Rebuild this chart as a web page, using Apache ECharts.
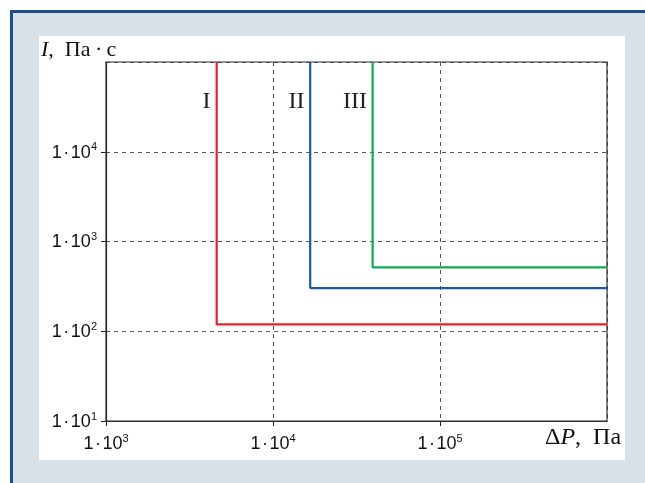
<!DOCTYPE html>
<html>
<head>
<meta charset="utf-8">
<script src="https://cdn.jsdelivr.net/npm/echarts@6/dist/echarts.min.js"></script>
<style>
  html, body { margin: 0; padding: 0; background: #ffffff; overflow: hidden; }
  #chart { width: 645px; height: 483px; }
</style>
</head>
<body>
<div id="chart"></div>
<script>
// Pressure drop ΔP (Pa) and index I (Pa·s), log–log
const xTicks = [1e3, 1e4, 1e5, 1e6];
const yTicks = [1e1, 1e2, 1e3, 1e4, 1e5];
const curveNames = ['I', 'II', 'III'];
const curveColors = ['#e8202a', '#1a59a6', '#12a950'];
// threshold ΔP of each curve (vertical part)
const thresholdP = [4600, 16700, 39500];
// plateau I of each curve (horizontal part)
const plateauI = [119, 303, 515];

const xMin = xTicks[0], xMax = xTicks[xTicks.length - 1];
const yMin = yTicks[0], yMax = yTicks[yTicks.length - 1];

function powLabel(v) {
  const e = Math.round(Math.log10(v));
  return '{b|1\u200a·\u200a10}{e|' + e + '}';
}
const richPow = {
  b: { fontFamily: 'Liberation Sans', fontSize: 18, color: '#111', lineHeight: 20, verticalAlign: 'bottom' },
  e: { fontFamily: 'Liberation Sans', fontSize: 11, color: '#111', lineHeight: 20, verticalAlign: 'top', padding: [0, 0, 8, 0] }
};

const series = curveNames.map((name, i) => ({
  name: name,
  type: 'line',
  showSymbol: false,
  symbol: 'none',
  lineStyle: { color: curveColors[i], width: 2.2 },
  data: [[thresholdP[i], yMax], [thresholdP[i], plateauI[i]], [xMax, plateauI[i]]],
  z: 5
}));

const serif = '"Liberation Serif", "Times New Roman", serif';

const chart = echarts.init(document.getElementById('chart'));
chart.setOption({
  animation: false,
  backgroundColor: '#ffffff',
  grid: { left: 106, top: 62, right: 38, bottom: 62, show: true, borderColor: '#333', borderWidth: 1.2, backgroundColor: 'transparent', z: 3 },
  xAxis: {
    type: 'log', logBase: 10, min: xMin, max: xMax,
    axisLine: { lineStyle: { color: '#222', width: 1.2 } },
    axisTick: { show: true, length: 5, lineStyle: { color: '#222' } },
    minorTick: { show: false },
    splitLine: { show: true, lineStyle: { color: '#555', type: [4, 4], width: 1 } },
    axisLabel: {
      margin: 12,
      fontSize: 18,
      fontFamily: 'Liberation Sans',
      color: '#111',
      showMaxLabel: false,
      formatter: powLabel,
      rich: richPow
    }
  },
  yAxis: {
    type: 'log', logBase: 10, min: yMin, max: yMax,
    axisLine: { lineStyle: { color: '#222', width: 1.2 } },
    axisTick: { show: true, length: 5, lineStyle: { color: '#222' } },
    minorTick: { show: false },
    splitLine: { show: true, lineStyle: { color: '#555', type: [4, 4], width: 1 } },
    axisLabel: {
      margin: 9,
      fontSize: 18,
      fontFamily: 'Liberation Sans',
      color: '#111',
      showMaxLabel: false,
      formatter: powLabel,
      rich: richPow
    }
  },
  series: series,
  graphic: [
    // outer frame (top and left edges visible) and inner white panel
    { type: 'rect', z: -10, silent: true,
      shape: { x: 10, y: 10, width: 640, height: 480 },
      style: { fill: '#d8e0e8' } },
    { type: 'rect', z: -10, silent: true,
      shape: { x: 10, y: 10, width: 640, height: 3 },
      style: { fill: '#1b4e8a' } },
    { type: 'rect', z: -10, silent: true,
      shape: { x: 10, y: 10, width: 3, height: 480 },
      style: { fill: '#1b4e8a' } },
    { type: 'rect', z: -9, silent: true,
      shape: { x: 39, y: 36, width: 586, height: 424 },
      style: { fill: '#ffffff' } },
    // axis titles
    { type: 'text', x: 41, y: 50, z: 10,
      style: {
        text: '{i|I},  Па\u2009·\u2009с',
        font: '22px ' + serif, fill: '#111', verticalAlign: 'middle',
        rich: { i: { fontFamily: 'Liberation Serif', fontStyle: 'italic', fontSize: 22, fill: '#111' } }
      } },
    { type: 'text', x: 545, y: 438, z: 10,
      style: {
        text: 'Δ{i|P},  Па',
        font: '24px ' + serif, fill: '#111', verticalAlign: 'middle',
        rich: { i: { fontFamily: 'Liberation Serif', fontStyle: 'italic', fontSize: 24, fill: '#111' } }
      } },
    // curve labels
    { type: 'text', x: 206.5, y: 102, z: 10,
      style: { text: curveNames[0], font: '24px ' + serif, fill: '#222', align: 'center', verticalAlign: 'middle' } },
    { type: 'text', x: 296.5, y: 102, z: 10,
      style: { text: curveNames[1], font: '24px ' + serif, fill: '#222', align: 'center', verticalAlign: 'middle' } },
    { type: 'text', x: 355, y: 102, z: 10,
      style: { text: curveNames[2], font: '24px ' + serif, fill: '#222', align: 'center', verticalAlign: 'middle' } }
  ]
});
</script>
</body>
</html>
